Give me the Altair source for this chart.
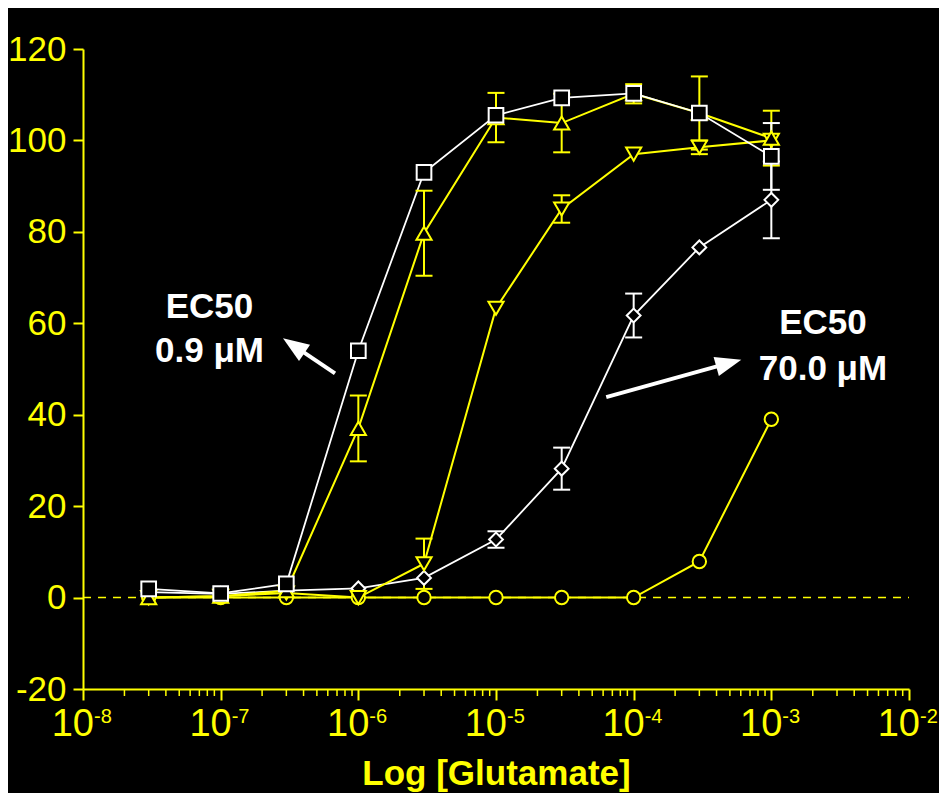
import altair as alt
import pandas as pd
import math

# ---- data ----
conc = [3e-8, 1e-7, 3e-7, 1e-6, 3e-6, 1e-5, 3e-5, 1e-4, 3e-4, 1e-3]

ci_y = [0.0, 0.0, 0.0, 0.0, 0.0, 0.0, 0.0, 0.0, 7.9, 39.0]
ci_e = [0, 0, 0, 0, 0, 0, 0, 0, 0, 0]
dm_y = [1.2, 0.8, 1.5, 2.0, 4.3, 12.7, 28.2, 61.7, 76.6, 87.0]
dm_e = [0, 0, 0, 0, 0, 1.8, 4.6, 4.8, 0, 8.4]
dn_y = [0.0, 0.3, 1.0, 0.0, 7.4, 63.3, 85.0, 97.0, 98.5, 100.0]
dn_e = [0, 0, 0, 0, 5.5, 0, 3.0, 0, 1.5, 0]
up_y = [0.0, 0.3, 1.5, 37.0, 79.7, 105.0, 103.8, 110.2, 106.0, 100.5]
up_e = [0, 0, 0, 7.2, 9.3, 5.4, 6.4, 2.1, 8.0, 6.0]
sq_y = [1.9, 0.9, 3.0, 54.0, 93.0, 105.5, 109.3, 110.3, 106.0, 96.5]
sq_e = [0, 0, 0, 0, 0, 0, 0, 0, 0, 7.3]

decades = [1e-8, 1e-7, 1e-6, 1e-5, 1e-4, 1e-3, 1e-2]
exponents = ["-8", "-7", "-6", "-5", "-4", "-3", "-2"]
y_ticks = [-20, 0, 20, 40, 60, 80, 100, 120]
minor = [m * d for d in decades[:-1] for m in range(2, 10)]

# annotations (data coordinates)
ann_x = [8.30e-8, 8.30e-8, 2.371e-3, 2.371e-3]
ann_y = [61.1, 51.5, 57.7, 47.7]
ann_text = ["EC50", "0.9 \u03bcM", "EC50", "70.0 \u03bcM"]

arrow_tail_x = [6.77e-7, 6.32e-5]
arrow_tail_y = [49.05, 43.86]
arrow_tip_x = [2.836e-7, 6.05e-4]
arrow_tip_y = [56.71, 52.05]
arrow_angle = [304, 74.5]
shaft_frac = [0.70, 0.86]

YEL = "#ffff00"
WHT = "#ffffff"
FONT = "Liberation Sans"

xscale = alt.Scale(type="log", domain=[1e-8, 1e-2])
yscale = alt.Scale(domain=[-20, 120], nice=False, zero=False)
xaxis = alt.Axis(values=decades, labels=False, tickSize=11, tickWidth=2,
                 tickColor=YEL, domainColor=YEL, domainWidth=2, grid=False,
                 title="Log [Glutamate]", titleColor=YEL, titleFontSize=35,
                 titleFontWeight="bold", titleFont=FONT, titleY=95,
                 titleBaseline="alphabetic")
yaxis = alt.Axis(values=y_ticks, tickSize=10, tickWidth=2, tickColor=YEL,
                 domainColor=YEL, domainWidth=2, grid=False, title=None,
                 labelColor=YEL, labelFontSize=35, labelFont=FONT,
                 labelPadding=7, labelExpr="'' + datum.value")


def X(f):
    return alt.X(f, type="quantitative", scale=xscale, axis=xaxis)


def Y(f):
    return alt.Y(f, type="quantitative", scale=yscale, axis=yaxis)


series = [
    ("circle", ci_y, ci_e, YEL, "circle", 180, 2),
    ("diamond", dm_y, dm_e, WHT, "diamond", 190, 1.8),
    ("down", dn_y, dn_e, YEL, "triangle-down", 230, 2),
    ("up", up_y, up_e, YEL, "triangle-up", 230, 2),
    ("square", sq_y, sq_e, WHT, "square", 215, 1.8),
]

frames = {}
for name, ys, es, col, shp, sz, lw in series:
    frames[name] = pd.DataFrame({
        "x": conc, "y": ys,
        "lo": [v - e for v, e in zip(ys, es)],
        "hi": [v + e for v, e in zip(ys, es)],
        "e": es,
    })

layers = []

# zero dashed line
zero_df = pd.DataFrame({"x": [1e-8], "x2": [1e-2], "y": [0]})
layers.append(alt.Chart(zero_df).mark_rule(color=YEL, strokeWidth=1.5, strokeDash=[8, 7]).encode(
    x=X("x"), x2="x2", y=Y("y")))

# minor ticks
minor_df = pd.DataFrame({"x": minor})
layers.append(alt.Chart(minor_df).mark_rule(color=YEL, strokeWidth=1.5).encode(
    x=X("x"), y=alt.value(640), y2=alt.value(647)))

# lines
for name, ys, es, col, shp, sz, lw in series:
    layers.append(alt.Chart(frames[name]).mark_line(color=col, strokeWidth=lw).encode(
        x=X("x"), y=Y("y")))

# error bars
for name, ys, es, col, shp, sz, lw in series:
    d = frames[name][frames[name]["e"] > 0]
    if len(d) == 0:
        continue
    layers.append(alt.Chart(d).mark_rule(color=col, strokeWidth=2).encode(
        x=X("x"), y=Y("lo"), y2="hi"))
    layers.append(alt.Chart(d).mark_tick(color=col, orient="horizontal", size=17,
                                         thickness=2, opacity=1).encode(x=X("x"), y=Y("lo")))
    layers.append(alt.Chart(d).mark_tick(color=col, orient="horizontal", size=17,
                                         thickness=2, opacity=1).encode(x=X("x"), y=Y("hi")))

# markers
for name, ys, es, col, shp, sz, lw in series:
    layers.append(alt.Chart(frames[name]).mark_point(
        shape=shp, size=sz, filled=True, fill="black", stroke=col, strokeWidth=2,
        opacity=1, fillOpacity=1).encode(x=X("x"), y=Y("y")))

# arrows
sx, sy = [], []
for tx, ty, hx, hy, f in zip(arrow_tail_x, arrow_tail_y, arrow_tip_x, arrow_tip_y, shaft_frac):
    lx = math.log10(tx) + f * (math.log10(hx) - math.log10(tx))
    sx.append(10 ** lx)
    sy.append(ty + f * (hy - ty))
arrow_df = pd.DataFrame({"tx": arrow_tail_x, "ty": arrow_tail_y, "sx": sx, "sy": sy,
                         "hx": arrow_tip_x, "hy": arrow_tip_y, "ang": arrow_angle})
layers.append(alt.Chart(arrow_df).mark_rule(color=WHT, strokeWidth=4).encode(
    x=X("tx"), y=Y("ty"), x2="sx", y2="sy"))
layers.append(alt.Chart(arrow_df).mark_point(
    shape="M0,0L0.38,1L-0.38,1Z", size=2704, filled=True, color=WHT, opacity=1,
    strokeWidth=0).encode(
    x=X("hx"), y=Y("hy"), angle=alt.Angle("ang:Q", scale=None)))

# annotation text
ann_df = pd.DataFrame({"x": ann_x, "y": ann_y, "t": ann_text})
layers.append(alt.Chart(ann_df).mark_text(
    color=WHT, font=FONT, fontSize=35, fontWeight="bold", align="center",
    baseline="alphabetic").encode(x=X("x"), y=Y("y"), text="t:N"))

# x tick labels 10^n
lab_df = pd.DataFrame({"x": decades, "base": ["10"] * len(decades), "ex": exponents})
layers.append(alt.Chart(lab_df).mark_text(
    color=YEL, font=FONT, fontSize=38, align="right", baseline="alphabetic", dx=11).encode(
    x=X("x"), y=alt.value(687), text="base:N"))
layers.append(alt.Chart(lab_df).mark_text(
    color=YEL, font=FONT, fontSize=20, align="left", baseline="alphabetic", dx=11).encode(
    x=X("x"), y=alt.value(674), text="ex:N"))

chart = alt.layer(*layers).properties(
    width=826, height=640,
    autosize=alt.AutoSizeParams(type="none"),
    padding={"left": 75, "top": 41, "right": 30, "bottom": 104},
    background="black",
).configure_view(strokeWidth=0)

chart.save("out.html", embed_options={"renderer": "svg", "actions": False})
